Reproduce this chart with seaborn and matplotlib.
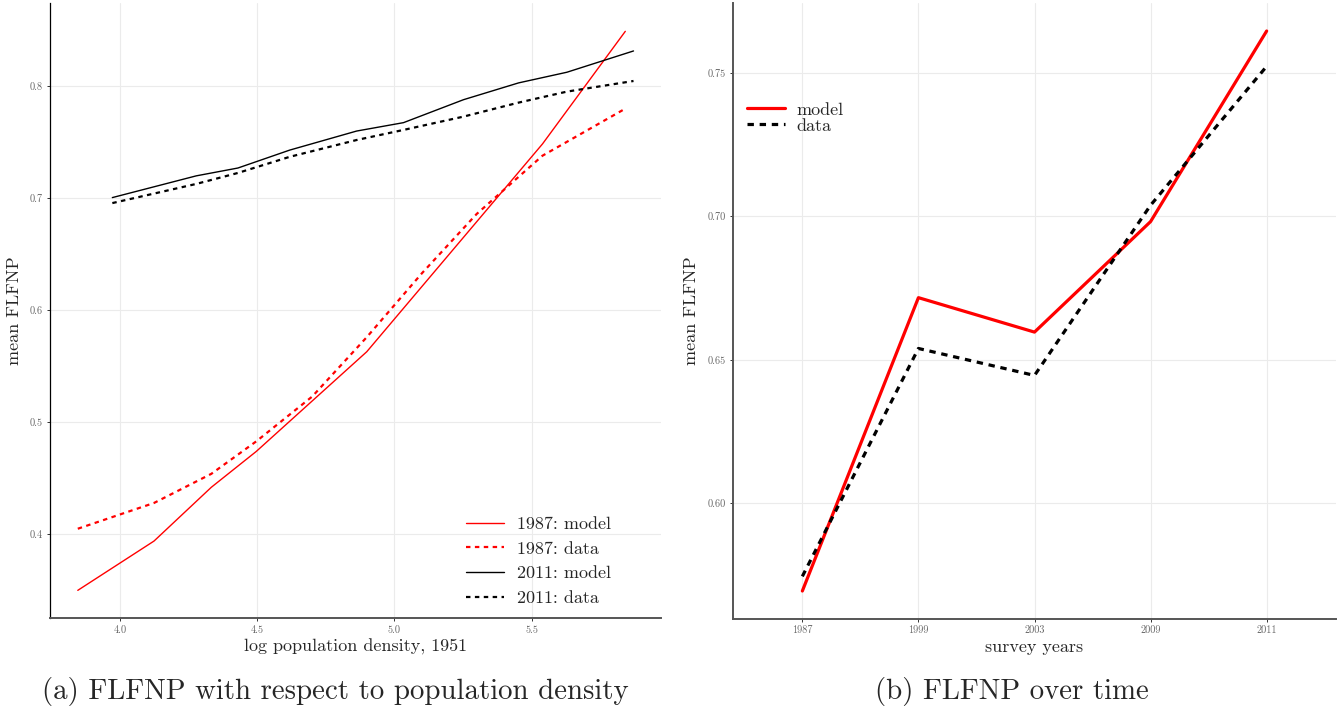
import numpy as np
import pandas as pd
import matplotlib
matplotlib.use("Agg")
import matplotlib.pyplot as plt
from matplotlib.lines import Line2D
import seaborn as sns

# ---- panel (a): mean FLFNP by log population density (1951) ----
dens_1987_model_x = [3.845, 4.123, 4.332, 4.496, 4.899, 5.540, 5.842]
dens_1987_model_y = [0.350, 0.394, 0.442, 0.474, 0.563, 0.7485, 0.849]
dens_1987_data_x = [3.845, 4.123, 4.332, 4.496, 4.700, 4.899, 5.100, 5.300, 5.540, 5.842]
dens_1987_data_y = [0.405, 0.428, 0.454, 0.483, 0.523, 0.576, 0.633, 0.686, 0.738, 0.780]
dens_2011_x = [3.971, 4.277, 4.429, 4.618, 4.862, 5.033, 5.252, 5.453, 5.629, 5.872]
dens_2011_model_y = [0.7006, 0.720, 0.727, 0.743, 0.760, 0.7675, 0.788, 0.803, 0.8125, 0.8315]
dens_2011_data_y = [0.6957, 0.7128, 0.7226, 0.737, 0.752, 0.761, 0.7729, 0.7854, 0.7952, 0.8047]

dens_xticks = [4.0, 4.5, 5.0, 5.5]
dens_yticks = [0.4, 0.5, 0.6, 0.7, 0.8]

# ---- panel (b): mean FLFNP by survey year ----
years = ["1987", "1999", "2003", "2009", "2011"]
year_model = [0.5695, 0.6717, 0.6597, 0.6982, 0.7646]
year_data = [0.5746, 0.6540, 0.6446, 0.7039, 0.7523]
year_yticks = [0.60, 0.65, 0.70, 0.75]

sns.set_theme(style="white")
plt.rcParams["font.family"] = ["cmr10", "DejaVu Serif"]
plt.rcParams["mathtext.fontset"] = "cm"
plt.rcParams["axes.formatter.use_mathtext"] = True
plt.rcParams["axes.unicode_minus"] = False

W, H = 1342, 711
fig = plt.figure(figsize=(W / 100, H / 100), dpi=100)


def px_axes(left, top, right, bottom):
    return fig.add_axes([left / W, 1 - bottom / H, (right - left) / W, (bottom - top) / H])


def expand(vals, frac=0.05):
    lo, hi = min(vals), max(vals)
    pad = (hi - lo) * frac
    return lo - pad, hi + pad


GRID = "#ebebeb"
TICKC = "#666666"
RED = "#ff0000"


def style_axes(ax, left_color, bottom_color, left_lw, bottom_lw):
    for s in ("top", "right"):
        ax.spines[s].set_visible(False)
    ax.spines["left"].set_color(left_color)
    ax.spines["left"].set_linewidth(left_lw)
    ax.spines["bottom"].set_color(bottom_color)
    ax.spines["bottom"].set_linewidth(bottom_lw)
    ax.grid(True, color=GRID, linewidth=0.8)
    ax.set_axisbelow(True)
    ax.tick_params(axis="both", which="major", length=2.5, width=0.7, color="#333333",
                   labelsize=7.4, labelcolor=TICKC, pad=2.5, left=True, bottom=True)


# ---------------- panel (a) ----------------
ax1 = px_axes(50, 3.4, 661.3, 618.3)
df87m = pd.DataFrame({"x": dens_1987_model_x, "y": dens_1987_model_y})
df87d = pd.DataFrame({"x": dens_1987_data_x, "y": dens_1987_data_y})
df11m = pd.DataFrame({"x": dens_2011_x, "y": dens_2011_model_y})
df11d = pd.DataFrame({"x": dens_2011_x, "y": dens_2011_data_y})

sns.lineplot(data=df87m, x="x", y="y", ax=ax1, color=RED, linewidth=1.0, label="1987: model")
sns.lineplot(data=df87d, x="x", y="y", ax=ax1, color=RED, linewidth=1.6, label="1987: data")
sns.lineplot(data=df11m, x="x", y="y", ax=ax1, color="black", linewidth=1.0, label="2011: model")
sns.lineplot(data=df11d, x="x", y="y", ax=ax1, color="black", linewidth=1.6, label="2011: data")
for ln in (ax1.lines[1], ax1.lines[3]):
    ln.set_dashes((2.0, 2.0))

allx = dens_1987_model_x + dens_1987_data_x + dens_2011_x
ally = dens_1987_model_y + dens_1987_data_y + dens_2011_model_y + dens_2011_data_y
ax1.set_xlim(*expand(allx))
ax1.set_ylim(*expand(ally))
ax1.set_xticks(dens_xticks)
ax1.set_xticklabels([f"{v:.1f}" for v in dens_xticks])
ax1.set_yticks(dens_yticks)
ax1.set_yticklabels([f"{v:.1f}" for v in dens_yticks])
style_axes(ax1, "black", "#555555", 0.9, 1.4)
ax1.set_xlabel("log population density, 1951", fontsize=13, labelpad=3)
ax1.set_ylabel("mean FLFNP", fontsize=13, labelpad=6)

h1 = [Line2D([], [], color=RED, lw=1.0),
      Line2D([], [], color=RED, lw=1.6, dashes=(2.0, 2.0)),
      Line2D([], [], color="black", lw=1.0),
      Line2D([], [], color="black", lw=1.6, dashes=(2.0, 2.0))]
ax1.legend(h1, ["1987: model", "1987: data", "2011: model", "2011: data"],
           loc="center left", bbox_to_anchor=(0.681, 0.093), frameon=False,
           fontsize=13, handlelength=2.1, handletextpad=0.72, labelspacing=0.5,
           borderpad=0, borderaxespad=0)

# ---------------- panel (b) ----------------
ax2 = px_axes(732.7, 3, 1336.3, 619)
dfy = pd.DataFrame({"year": years, "model": year_model, "data": year_data})
sns.lineplot(data=dfy, x="year", y="model", ax=ax2, color=RED, linewidth=2.3, sort=False, label="model")
sns.lineplot(data=dfy, x="year", y="data", ax=ax2, color="black", linewidth=2.3, sort=False, label="data")
ax2.lines[1].set_dashes((2.0, 1.8))
ax2.set_xlim(-0.6, len(years) - 1 + 0.6)
ax2.set_ylim(*expand(year_model + year_data))
ax2.set_yticks(year_yticks)
ax2.set_yticklabels([f"{v:.2f}" for v in year_yticks])
style_axes(ax2, "#555555", "#555555", 1.4, 1.4)
ax2.set_xlabel("survey years", fontsize=13, labelpad=3)
ax2.set_ylabel("mean FLFNP", fontsize=13, labelpad=6)

h2 = [Line2D([], [], color=RED, lw=2.3),
      Line2D([], [], color="black", lw=2.3, dashes=(2.0, 1.8))]
ax2.legend(h2, ["model", "data"], loc="center left", bbox_to_anchor=(0.0232, 0.8135),
           frameon=False, fontsize=13, handlelength=2.1, handletextpad=0.65,
           labelspacing=0.02, borderpad=0, borderaxespad=0)

# ---------------- captions ----------------
fig.text(335 / W, 1 - 691 / H, "(a) FLFNP with respect to population density",
         ha="center", va="center", fontsize=20.8)
fig.text(1012 / W, 1 - 691 / H, "(b) FLFNP over time",
         ha="center", va="center", fontsize=20.8)

fig.savefig("out.png", dpi=100)
